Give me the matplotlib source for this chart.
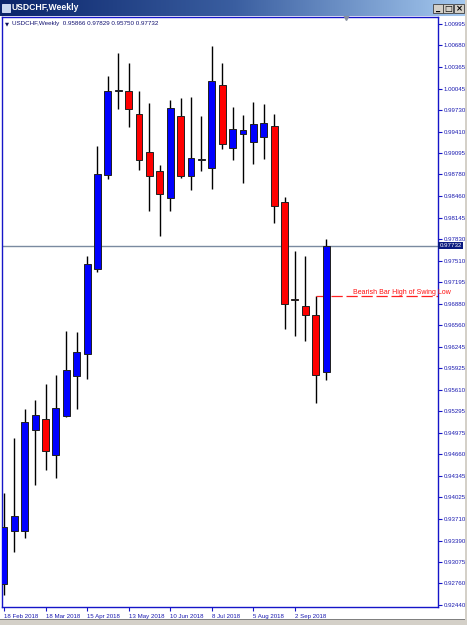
import numpy as np
import matplotlib
matplotlib.use("Agg")
import matplotlib.pyplot as plt
from matplotlib.patches import Rectangle
from matplotlib.colors import LinearSegmentedColormap
import matplotlib.transforms as mtransforms

plt.rcParams['font.family'] = ['Liberation Sans', 'DejaVu Sans']

# weekly USDCHF candles, 18 Feb 2018 .. 23 Sep 2018
opens = [0.92752, 0.93532, 0.93532, 0.95019, 0.95181, 0.94651, 0.95225, 0.95814,
         0.96137, 0.97389, 0.98772, 1.00009, 1.00009, 0.99670, 0.99111, 0.98831,
         0.98434, 0.99641, 0.98758, 0.98990, 0.98875, 1.00097, 0.99170, 0.99376,
         0.99258, 0.99332, 0.99494, 0.98375, 0.96947, 0.96844, 0.96711, 0.95866]
highs = [0.94091, 0.94901, 0.95328, 0.95460, 0.95696, 0.95828, 0.96476, 0.96461,
         0.97580, 0.99199, 1.00230, 1.00568, 1.00421, 1.00009, 0.99832, 0.98920,
         0.99876, 0.99906, 0.99920, 0.99641, 1.00671, 1.00421, 0.99773, 0.99655,
         0.99847, 0.99817, 0.99670, 0.98448, 0.97654, 0.97580, 0.96991, 0.97829]
lows = [0.92590, 0.93223, 0.93429, 0.94209, 0.94430, 0.94312, 0.95210, 0.95328,
        0.95769, 0.97344, 0.98713, 0.99744, 0.99479, 0.98846, 0.98242, 0.97874,
        0.98242, 0.98728, 0.98552, 0.98831, 0.98566, 0.99155, 0.98993, 0.98655,
        0.98934, 0.99008, 0.98066, 0.96505, 0.96402, 0.96329, 0.95416, 0.95750]
closes = [0.93591, 0.93753, 0.95136, 0.95240, 0.94710, 0.95343, 0.95902, 0.96167,
          0.97462, 0.98787, 1.00009, 1.00023, 0.99744, 0.98993, 0.98758, 0.98493,
          0.99759, 0.98758, 0.99023, 0.99010, 1.00156, 0.99229, 0.99449, 0.99435,
          0.99523, 0.99538, 0.98316, 0.96873, 0.96932, 0.96711, 0.95828, 0.97732]

date_ticks = [0, 4, 8, 12, 16, 20, 24, 28]
date_labels = ["18 Feb 2018", "18 Mar 2018", "15 Apr 2018", "13 May 2018",
               "10 Jun 2018", "8 Jul 2018", "5 Aug 2018", "2 Sep 2018"]
price_ticks = [1.00995, 1.00680, 1.00365, 1.00045, 0.99730, 0.99410, 0.99095,
               0.98780, 0.98460, 0.98145, 0.97830, 0.97510, 0.97195, 0.96880,
               0.96560, 0.96245, 0.95925, 0.95610, 0.95295, 0.94975, 0.94660,
               0.94345, 0.94025, 0.93710, 0.93390, 0.93075, 0.92760, 0.92440]
current_price = 0.97732
level_bar = 30  # bearish bar whose high is marked
level_text = "Bearish Bar High of Swing Low"
header = "USDCHF,Weekly  0.95866 0.97829 0.95750 0.97732"

frame_blue = '#1515c8'
text_blue = '#1a1ab0'
small = 4.4

W, H = 467, 625
fig = plt.figure(figsize=(W / 100, H / 100), dpi=100, facecolor='white')

# --- chart area ---
ax = fig.add_axes([2 / W, 18 / H, 436 / W, 590 / H])
ax.set_facecolor('white')

x = np.arange(len(opens))
o = np.array(opens); h = np.array(highs); l = np.array(lows); c = np.array(closes)
bull = c >= o

ax.vlines(x, l, h, color='black', linewidth=1.0, zorder=2)
ax.bar(x, np.maximum(np.abs(c - o), 0.00004), bottom=np.minimum(o, c), width=0.66,
       color=np.where(bull, '#0000ff', '#ff0000'), edgecolor='#202020',
       linewidth=0.7, zorder=3)

ax.axhline(current_price, color='#7a8aa0', linewidth=1.0, zorder=1)

# marked level with label
lvl = highs[level_bar]
ax.hlines(lvl, level_bar, 42, color='#ff2020', linewidth=0.9,
          linestyles=(0, (9, 3)), zorder=2)
ax.text(33.6, lvl + 0.00003, level_text, color='#ff1010', fontsize=5.0,
        ha='left', va='bottom', zorder=4)

ax.set_xlim(-0.19, 41.77)
ax.set_ylim(0.92413, 1.01098)

for s in ax.spines.values():
    s.set_color(frame_blue)
    s.set_linewidth(1.0)

ax.yaxis.tick_right()
ax.set_yticks(price_ticks)
ax.set_yticklabels([f"{p:.5f}" for p in price_ticks])
ax.set_xticks(date_ticks)
ax.set_xticklabels(date_labels, ha='left')
ax.tick_params(axis='both', direction='out', length=3, width=0.8, color=frame_blue,
               labelcolor=text_blue, labelsize=small, pad=1)
ax.tick_params(axis='x', pad=2, labelsize=4.4)

# current price box on the axis
trans = mtransforms.blended_transform_factory(ax.transAxes, ax.transData)
ax.text(1.003, current_price, f"{current_price:.5f}", transform=trans, color='white',
        fontsize=small, ha='left', va='center', zorder=5,
        bbox=dict(boxstyle='square,pad=0.2', facecolor='#0a1a80', edgecolor='none'))

# header line and shift marker
ax.text(0.006, 0.992, "\u25bc", transform=ax.transAxes, color='#101060', fontsize=3.8,
        ha='left', va='top', family=['DejaVu Sans'])
ax.text(0.022, 0.994, header, transform=ax.transAxes, color='#101070', fontsize=4.5,
        ha='left', va='top')
ax.plot([0.79], [1.0], transform=ax.transAxes, marker='v', color='#8890a0',
        markersize=4, clip_on=False, zorder=6)

# --- window title bar ---
tb = fig.add_axes([0, (H - 16) / H, 1, 16 / H])
grad = np.linspace(0, 1, 256).reshape(1, -1)
cmap = LinearSegmentedColormap.from_list('tb', ['#0a246a', '#3a5ea0', '#a6caf0'])
tb.imshow(grad, aspect='auto', cmap=cmap, extent=[0, W, 0, 16])
tb.set_xlim(0, W); tb.set_ylim(0, 16)
tb.axis('off')
tb.add_patch(Rectangle((2, 4), 8, 8, facecolor='#c8d8f0', edgecolor='#e0e8ff', linewidth=0.6))
tb.text(12, 8.5, "USDCHF,Weekly", color='white', fontsize=6.2, fontweight='bold',
        ha='left', va='center')
for bx, glyph in [(433, '_'), (443, '\u25a1'), (454, '\u00d7')]:
    tb.add_patch(Rectangle((bx, 3), 10, 9, facecolor='#d4d0c8', edgecolor='#404040', linewidth=0.6))
    tb.text(bx + 5, 7.5, glyph, color='black', fontsize=6, fontweight='bold',
            ha='center', va='center', family=['DejaVu Sans'])

# window edges
fig.patches.append(Rectangle((0, 0), 1, 5 / H, transform=fig.transFigure,
                             facecolor='#d4d0c8', edgecolor='none'))
fig.patches.append(Rectangle((0, 5 / H), 1, 1 / H, transform=fig.transFigure,
                             facecolor='#808080', edgecolor='none'))
fig.patches.append(Rectangle((465 / W, 0), 2 / W, 1, transform=fig.transFigure,
                             facecolor='#d4d0c8', edgecolor='none'))

fig.savefig("out.png", dpi=100, facecolor='white')
